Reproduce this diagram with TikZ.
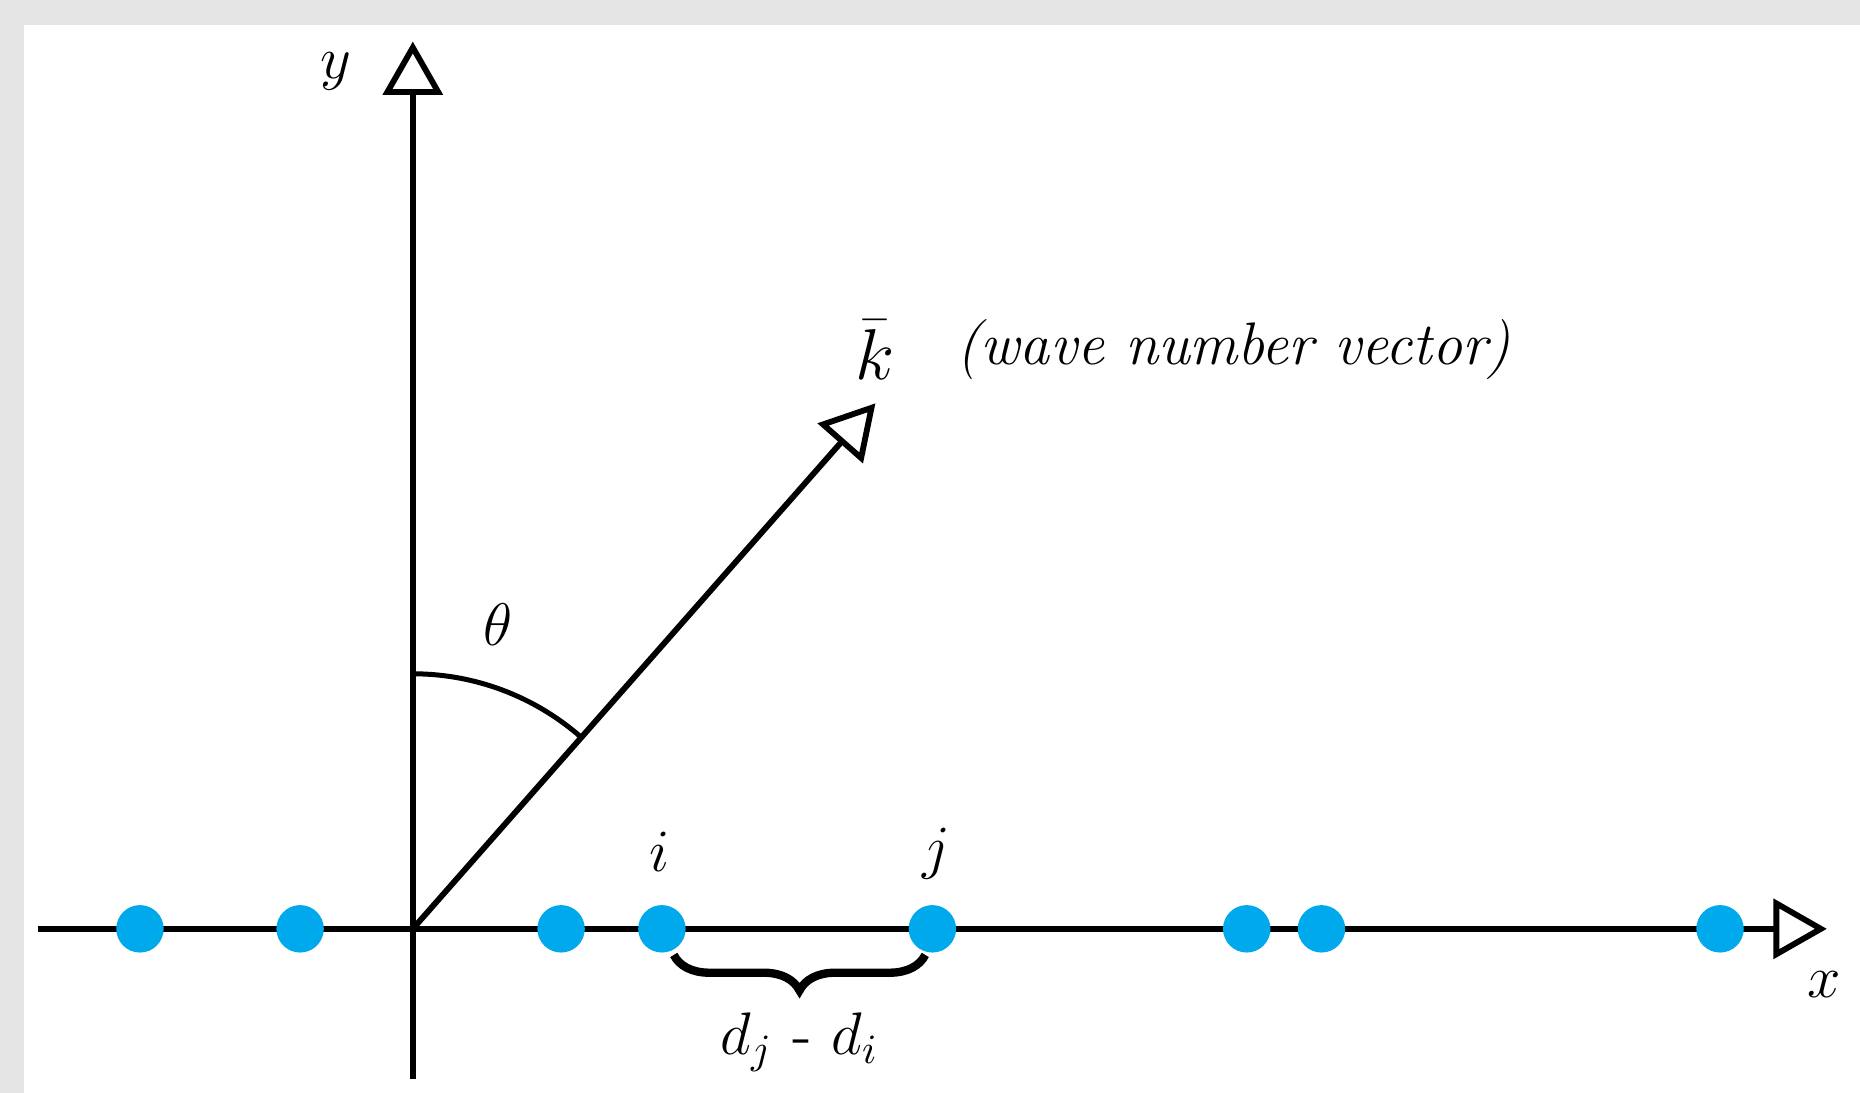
\documentclass[tikz,border=0pt]{standalone}
\usepackage{tikz}
\usetikzlibrary{arrows.meta, decorations.pathreplacing}
\usepackage{amsmath}
\definecolor{SiteBlue}{RGB}{0,168,236}

\begin{document}
\begin{tikzpicture}[x=1cm, y=1cm,
  axis/.style={line width=1.4pt, -{Triangle[open, length=4.5mm, width=5mm]}},
  site/.style={circle, fill=SiteBlue, inner sep=0pt, minimum size=0.4cm},
  lbl/.style={font=\Large, inner sep=0pt},
]

% frame
\fill[gray!20] (0,0) rectangle (15.68,-9.21);
\fill[white] (0.20,-0.21) rectangle (15.68,-9.21);
\useasboundingbox (0,0) rectangle (15.68,-9.21);

\coordinate (O) at (3.48,-7.83);
\coordinate (xl) at (0.32,-7.83);
\coordinate (xr) at (15.40,-7.83);
\coordinate (yb) at (3.48,-9.10);
\coordinate (yt) at (3.48,-0.35);
\coordinate (kt) at (7.38,-3.40);

\draw[axis] (xl) -- (xr);
\draw[axis] (yb) -- (yt);
\draw[axis] (O) -- (kt);
\draw[line width=1.2pt] (3.48,-5.68) arc (90:48.6:2.15cm);

\node[site] (s1) at (1.18,-7.83) {};
\node[site] (s2) at (2.53,-7.83) {};
\node[site] (s3) at (4.73,-7.83) {};
\node[site] (si) at (5.58,-7.83) {};
\node[site] (sj) at (7.86,-7.83) {};
\node[site] (s6) at (10.51,-7.83) {};
\node[site] (s7) at (11.14,-7.83) {};
\node[site] (s8) at (14.50,-7.83) {};

\node[lbl] (ylab) at (2.83,-0.60) {$y$};
\node[lbl] (xlab) at (15.38,-8.30) {$x$};
\node[lbl, font=\LARGE] (klab) at (7.38,-2.95) {$\bar{k}$};
\node[lbl, anchor=west, font=\Large\itshape] (kdesc) at (8.06,-2.95) {(wave number vector)};
\node[lbl] (theta) at (4.20,-5.27) {$\theta$};
\node[lbl] (ilab) at (5.56,-7.18) {$i$};
\node[lbl] (jlab) at (7.89,-7.20) {$j$};

\draw[line width=2pt, decorate, decoration={brace, mirror, amplitude=0.3cm}]
  (5.68,-8.05) -- (7.80,-8.05) node[lbl, midway, below=0.45cm] (dist) {$d_j$ - $d_i$};

\end{tikzpicture}
\end{document}
